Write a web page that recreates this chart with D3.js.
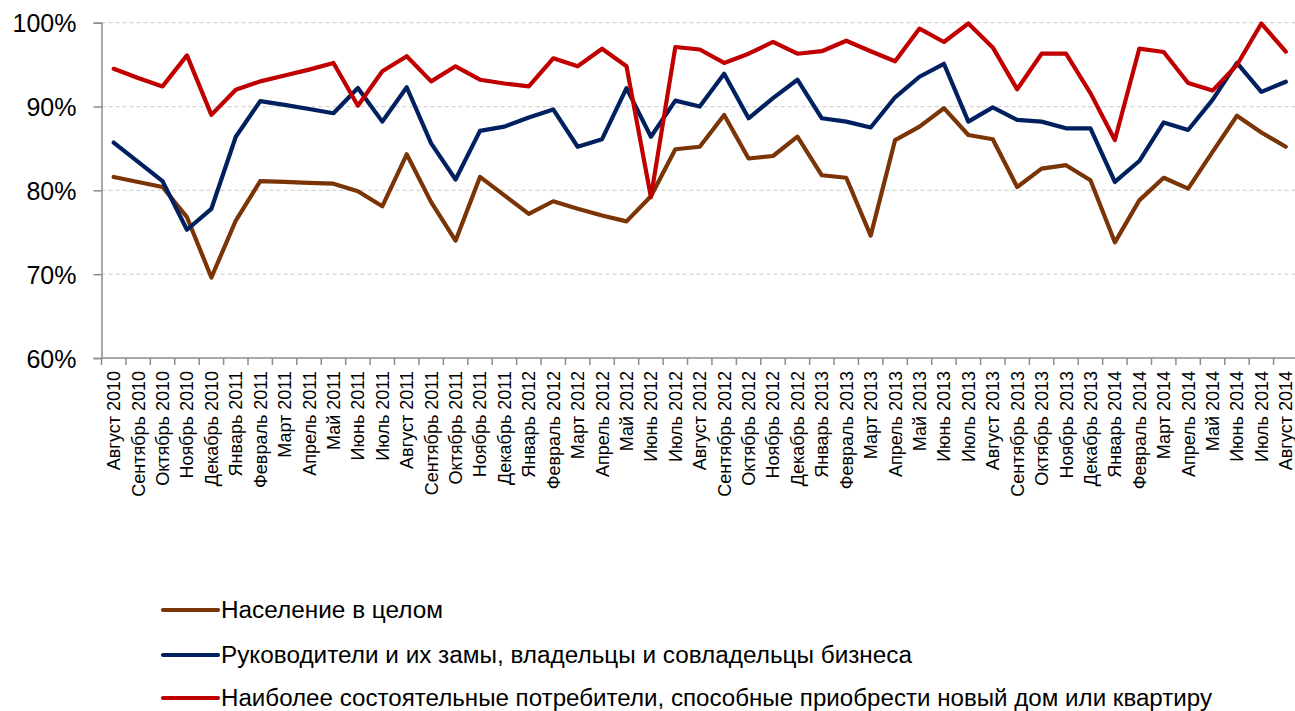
<!DOCTYPE html>
<html>
<head>
<meta charset="utf-8">
<script src="https://cdn.jsdelivr.net/npm/d3@7"></script>
<style>
  html, body { margin: 0; padding: 0; background: #fff; }
  svg { display: block; }
  text { font-family: "Liberation Sans", Arial, sans-serif; fill: #000; }
</style>
</head>
<body>
<svg id="chart" width="1295" height="711"></svg>
<script>
const categories = [
  "Август 2010","Сентябрь 2010","Октябрь 2010","Ноябрь 2010","Декабрь 2010",
  "Январь 2011","Февраль 2011","Март 2011","Апрель 2011","Май 2011","Июнь 2011","Июль 2011",
  "Август 2011","Сентябрь 2011","Октябрь 2011","Ноябрь 2011","Декабрь 2011",
  "Январь 2012","Февраль 2012","Март 2012","Апрель 2012","Май 2012","Июнь 2012","Июль 2012",
  "Август 2012","Сентябрь 2012","Октябрь 2012","Ноябрь 2012","Декабрь 2012",
  "Январь 2013","Февраль 2013","Март 2013","Апрель 2013","Май 2013","Июнь 2013","Июль 2013",
  "Август 2013","Сентябрь 2013","Октябрь 2013","Ноябрь 2013","Декабрь 2013",
  "Январь 2014","Февраль 2014","Март 2014","Апрель 2014","Май 2014","Июнь 2014","Июль 2014",
  "Август 2014"
];

const population = [
  81.6,81.0,80.4,76.8,69.6,76.4,81.1,81.0,80.9,80.8,79.9,78.1,
  84.3,78.6,74.0,81.6,79.4,77.2,78.7,77.8,77.0,76.3,79.3,84.9,
  85.2,89.0,83.8,84.1,86.4,81.8,81.5,74.6,86.0,87.6,89.8,86.6,
  86.1,80.4,82.6,83.0,81.2,73.8,78.8,81.5,80.2,84.6,88.9,86.9,
  85.2
];
const managers = [
  85.7,83.4,81.1,75.3,77.8,86.4,90.65,90.2,89.7,89.2,92.2,88.2,
  92.3,85.6,81.3,87.1,87.6,88.7,89.65,85.2,86.1,92.2,86.4,90.7,
  90.0,93.9,88.6,91.0,93.2,88.6,88.2,87.5,91.1,93.55,95.1,88.2,
  89.9,88.4,88.2,87.4,87.4,81.0,83.5,88.1,87.2,90.8,95.2,91.75,
  92.95
];
const wealthy = [
  94.5,93.4,92.4,96.1,89.0,92.0,93.0,93.7,94.4,95.2,90.1,94.2,
  96.0,93.0,94.8,93.2,92.75,92.4,95.75,94.8,96.9,94.8,79.2,97.1,
  96.8,95.2,96.3,97.7,96.3,96.6,97.85,96.6,95.4,99.3,97.7,99.9,
  97.05,92.05,96.3,96.3,91.6,86.0,96.9,96.5,92.8,91.9,94.95,99.9,
  96.55
];

const seriesNames = [
  "Население в целом",
  "Руководители и их замы, владельцы и  совладельцы бизнеса",
  "Наиболее состоятельные потребители, способные приобрести новый дом или квартиру"
];
const seriesColors = ["#7b3406", "#002060", "#c00000"];
const yTicks = [60, 70, 80, 90, 100];

const series = [population, managers, wealthy];

const svg = d3.select("#chart");

const x = d3.scaleBand().domain(categories).range([101.5, 1298]).padding(0);
const y = d3.scaleLinear().domain([60, 100]).range([358, 22.7]);

// gridlines
svg.append("g")
  .selectAll("line")
  .data(yTicks.filter(d => d > 60))
  .join("line")
  .attr("x1", x.range()[0])
  .attr("x2", 1295)
  .attr("y1", d => y(d))
  .attr("y2", d => y(d))
  .attr("stroke", "#d4d4d4")
  .attr("stroke-width", 1.2)
  .attr("stroke-dasharray", "4,3");

// y axis
const yAxis = d3.axisLeft(y)
  .tickValues(yTicks)
  .tickFormat(d => d + "%")
  .tickSize(8)
  .tickPadding(17);
const gy = svg.append("g")
  .attr("transform", `translate(${x.range()[0]},0)`)
  .call(yAxis);
gy.select(".domain").attr("stroke", "#8c8c8c").attr("stroke-width", 1.5);
gy.selectAll(".tick line").attr("stroke", "#8c8c8c").attr("stroke-width", 1.5);
gy.selectAll(".tick text")
  .attr("font-size", 25)
  .attr("font-family", "Liberation Sans, Arial, sans-serif")
  .attr("fill", "#000")
  .attr("dy", "0.36em");

// x axis line
svg.append("line")
  .attr("x1", x.range()[0])
  .attr("x2", 1295)
  .attr("y1", y(60))
  .attr("y2", y(60))
  .attr("stroke", "#8c8c8c")
  .attr("stroke-width", 1.5);

// x tick marks at band boundaries
const boundaries = categories.map(c => x(c)).concat([x(categories[categories.length - 1]) + x.bandwidth()]);
svg.append("g")
  .selectAll("line")
  .data(boundaries)
  .join("line")
  .attr("x1", d => d)
  .attr("x2", d => d)
  .attr("y1", y(60))
  .attr("y2", y(60) + 7)
  .attr("stroke", "#8c8c8c")
  .attr("stroke-width", 1.5);

// x labels
const xAxis = d3.axisBottom(x).tickSize(0).tickPadding(0);
const gx = svg.append("g")
  .attr("transform", `translate(0,${y(60)})`)
  .call(xAxis);
gx.select(".domain").remove();
gx.selectAll(".tick text")
  .attr("font-size", 18)
  .attr("font-family", "Liberation Sans, Arial, sans-serif")
  .attr("fill", "#000")
  .attr("text-anchor", "end")
  .attr("transform", "rotate(-90)")
  .attr("x", -13)
  .attr("y", 0)
  .attr("dy", "0.36em");

// lines
const line = d3.line()
  .x((d, i) => x(categories[i]) + x.bandwidth() / 2)
  .y(d => y(d));

svg.append("g")
  .selectAll("path")
  .data(series)
  .join("path")
  .attr("d", d => line(d))
  .attr("fill", "none")
  .attr("stroke", (d, i) => seriesColors[i])
  .attr("stroke-width", 4.2)
  .attr("stroke-linejoin", "round")
  .attr("stroke-linecap", "round");

// legend
const legendY = [610, 655, 698];
const legendWidths = [222, 691, 991];
const lg = svg.append("g");
seriesNames.forEach((name, i) => {
  lg.append("line")
    .attr("x1", 163).attr("x2", 218)
    .attr("y1", legendY[i]).attr("y2", legendY[i])
    .attr("stroke", seriesColors[i])
    .attr("stroke-width", 4.2)
    .attr("stroke-linecap", "round");
  lg.append("text")
    .attr("x", 221)
    .attr("y", legendY[i] + 8)
    .attr("font-size", 23)
    .attr("textLength", legendWidths[i])
    .attr("lengthAdjust", "spacingAndGlyphs")
    .text(name);
});
</script>
</body>
</html>
